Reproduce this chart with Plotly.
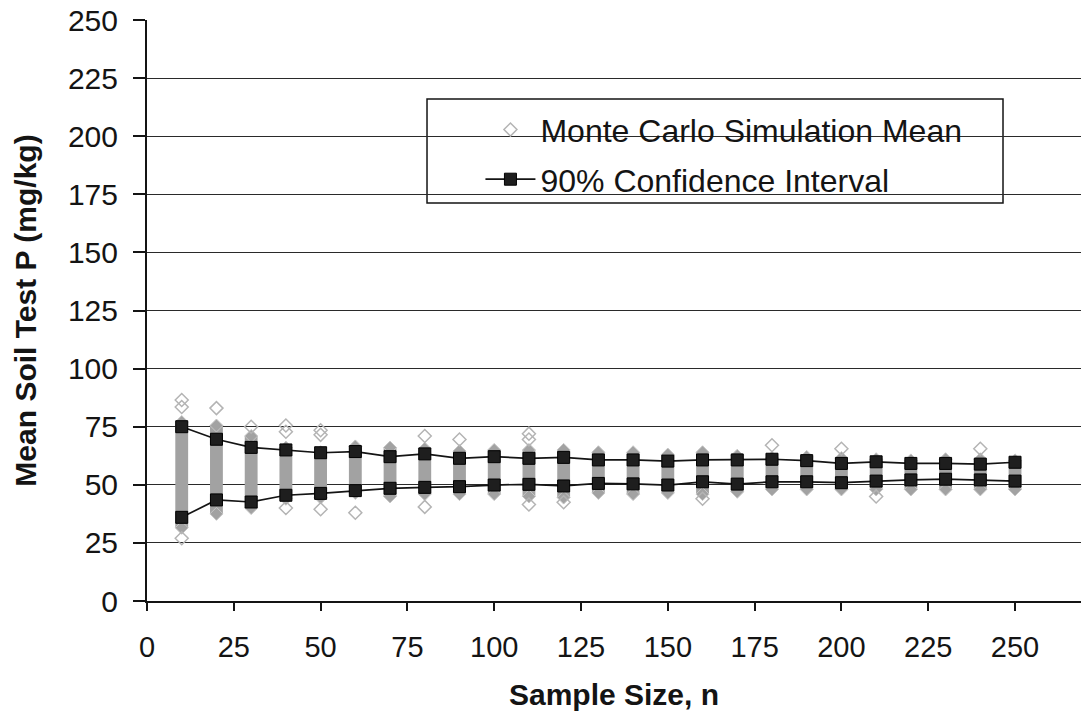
import plotly.graph_objects as go

# Sample sizes drawn in the Monte Carlo experiment
sample_size = [10, 20, 30, 40, 50, 60, 70, 80, 90, 100, 110, 120, 130,
               140, 150, 160, 170, 180, 190, 200, 210, 220, 230, 240, 250]

# 90% confidence interval bounds of the simulated means (mg/kg)
ci_upper = [75.0, 69.6, 66.1, 65.0, 63.8, 64.3, 62.1, 63.3, 61.4, 62.1, 61.4, 61.8, 60.7,
            60.7, 60.2, 60.7, 60.7, 61.0, 60.4, 59.2, 59.9, 59.2, 59.2, 58.9, 59.7]
ci_lower = [36.0, 43.5, 42.6, 45.5, 46.3, 47.5, 48.5, 48.9, 49.2, 49.9, 50.2, 49.5, 50.6,
            50.4, 49.9, 51.3, 50.3, 51.3, 51.3, 50.9, 51.6, 52.1, 52.4, 52.1, 51.6]

# Range covered by the densely overlapping simulation means at each sample size
band_high = [77.0, 75.5, 71.0, 66.0, 64.0, 66.5, 66.0, 65.5, 64.5, 65.0, 65.0, 65.0, 64.0,
             64.0, 63.0, 64.0, 62.5, 61.5, 62.0, 61.5, 61.0, 60.5, 61.0, 61.0, 60.5]
band_low = [31.5, 37.5, 40.0, 44.0, 44.5, 46.5, 45.0, 46.0, 46.0, 46.0, 45.0, 44.5, 46.5,
            46.0, 46.5, 46.0, 47.0, 48.0, 48.0, 48.0, 48.0, 48.0, 48.0, 48.0, 48.0]

# Isolated simulation means standing apart from the dense range
outlier_n = [10, 10, 10, 20, 30, 40, 40, 40, 50, 50, 50, 60, 80, 80, 90,
             110, 110, 110, 120, 160, 180, 200, 210, 240]
outlier_mean = [86.5, 83.5, 27.0, 83.0, 75.0, 75.5, 72.8, 40.0, 73.5, 71.5, 39.5, 38.0, 71.0, 40.5, 69.5,
                72.0, 69.5, 41.5, 42.5, 44.0, 67.0, 65.5, 45.0, 65.5]

x_ticks = [0, 25, 50, 75, 100, 125, 150, 175, 200, 225, 250]
y_ticks = [0, 25, 50, 75, 100, 125, 150, 175, 200, 225, 250]

FONT = "Liberation Sans, Arial, sans-serif"
INK = "#141414"
BAND = "#a2a2a2"

fig = go.Figure()

# Dense columns of simulated means
fig.add_trace(go.Bar(
    x=sample_size,
    y=[h - l for h, l in zip(band_high, band_low)],
    base=band_low,
    width=3.7,
    marker=dict(color=BAND, line=dict(width=0)),
    legendgroup="mc", showlegend=False, hoverinfo="skip",
))
for ends in (band_high, band_low):
    fig.add_trace(go.Scatter(
        x=sample_size, y=ends, mode="markers",
        marker=dict(symbol="diamond", size=10, color=BAND,
                    line=dict(color="#c6c6c6", width=1)),
        legendgroup="mc", showlegend=False, hoverinfo="skip",
    ))

# Individual simulation means
fig.add_trace(go.Scatter(
    x=outlier_n, y=outlier_mean, mode="markers",
    name="Monte Carlo Simulation Mean",
    marker=dict(symbol="diamond-open", size=10, color="#b4b4b4",
                line=dict(width=1.5)),
    legendgroup="mc",
))

# Confidence interval bounds
fig.add_trace(go.Scatter(
    x=sample_size, y=ci_lower, mode="lines+markers",
    name="90% Confidence Interval",
    line=dict(color=INK, width=1.7),
    marker=dict(symbol="square", size=12, color="#1e1e1e",
                line=dict(color="#000000", width=1)),
    legendgroup="ci",
))
fig.add_trace(go.Scatter(
    x=sample_size, y=ci_upper, mode="lines+markers",
    name="90% Confidence Interval",
    line=dict(color=INK, width=1.7),
    marker=dict(symbol="square", size=12, color="#1e1e1e",
                line=dict(color="#000000", width=1)),
    legendgroup="ci", showlegend=False,
))

# White framed box behind the legend
fig.add_shape(
    type="rect", xref="paper", yref="paper",
    x0=0.2998, x1=0.9165, y0=0.685, y1=0.864,
    fillcolor="white", line=dict(color=INK, width=1.5), layer="between",
)

fig.update_layout(
    width=1081, height=714,
    margin=dict(l=147, r=0, t=20, b=113),
    paper_bgcolor="white", plot_bgcolor="white",
    font=dict(family=FONT, color=INK, size=30),
    showlegend=True,
    legend=dict(
        x=0.357, xanchor="left", y=0.768, yanchor="middle",
        bgcolor="rgba(0,0,0,0)", borderwidth=0,
        font=dict(family=FONT, size=32, color=INK),
        traceorder="grouped", tracegroupgap=5, itemwidth=50,
    ),
    xaxis=dict(
        range=[0, 269], tickmode="array", tickvals=x_ticks,
        ticktext=[str(v) for v in x_ticks],
        showgrid=False, zeroline=False,
        showline=True, linecolor=INK, linewidth=2,
        ticks="outside", ticklen=8, tickwidth=1.5, tickcolor=INK,
        tickfont=dict(family=FONT, size=29, color=INK),
        ticklabelstandoff=11,
        title=dict(text="<b>Sample Size, n</b>", standoff=22,
                   font=dict(family=FONT, size=30, color=INK)),
    ),
    yaxis=dict(
        range=[0, 250], tickmode="array", tickvals=y_ticks,
        ticktext=[str(v) for v in y_ticks],
        showgrid=True, gridcolor="#2a2a2a", gridwidth=1.2, zeroline=False,
        showline=True, linecolor=INK, linewidth=2,
        ticks="outside", ticklen=12, tickwidth=1.5, tickcolor=INK,
        tickfont=dict(family=FONT, size=30, color=INK),
        ticklabelstandoff=9,
        title=dict(text="<b>Mean Soil Test P (mg/kg)</b>", standoff=22,
                   font=dict(family=FONT, size=30, color=INK)),
    ),
)

fig.write_html("out.html")
